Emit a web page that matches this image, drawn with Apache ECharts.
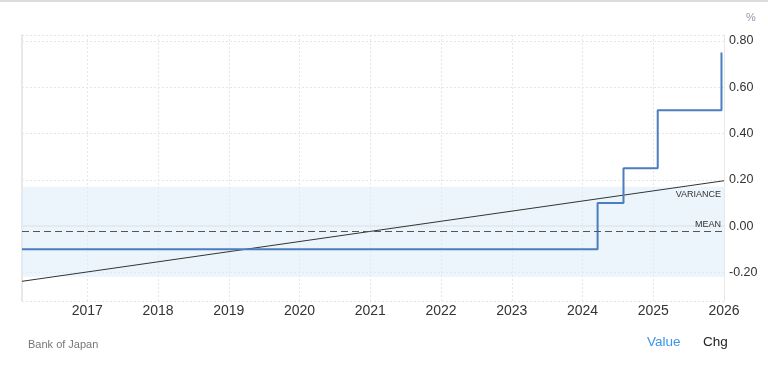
<!DOCTYPE html>
<html>
<head>
<meta charset="utf-8">
<script src="https://cdn.jsdelivr.net/npm/echarts@6/dist/echarts.min.js"></script>
<style>
html,body{margin:0;padding:0;background:#fff;}
#chart{width:768px;height:370px;}
</style>
</head>
<body>
<div id="chart"></div>
<script>
// ---- data ----
var rateDates = ['2016-01-29', '2024-03-19', '2024-07-31', '2025-01-24', '2025-12-19'];
var rateValues = [-0.10, 0.10, 0.25, 0.50, 0.75];
var axisStartDate = '2016-01-29';
var axisEndDate = '2026-01-01';
var yearTicks = [2017, 2018, 2019, 2020, 2021, 2022, 2023, 2024, 2025, 2026];
var meanValue = -0.024;
var varianceBand = [-0.218, 0.170];
var trendValues = [-0.238, 0.196];
var yTickLabels = ['-0.20', '0.00', '0.20', '0.40', '0.60', '0.80'];

function decYear(s) {
  var p = s.split('-').map(Number);
  var y = p[0];
  var start = Date.UTC(y, 0, 1), end = Date.UTC(y + 1, 0, 1);
  var d = Date.UTC(y, p[1] - 1, p[2]);
  return y + (d - start) / (end - start);
}
var xMin = decYear(axisStartDate), xMax = decYear(axisEndDate);
var rateData = rateDates.map(function (d, i) { return [decYear(d), rateValues[i]]; });
var trendData = [[xMin, trendValues[0]], [xMax, trendValues[1]]];

var FONT = 'Liberation Sans, Arial, sans-serif';
var chart = echarts.init(document.getElementById('chart'));
var yMin = -0.323, yMax = 0.825;
chart.setOption({
  animation: false,
  grid: { left: 22, right: 44, top: 35, bottom: 69 },
  xAxis: {
    type: 'value', min: xMin, max: xMax, minInterval: 1, maxInterval: 1,
    axisLine: { show: true, lineStyle: { color: '#e8e8e8', width: 2 } },
    axisTick: { show: false },
    axisLabel: {
      showMinLabel: false, margin: 3, color: '#333', fontSize: 14, fontFamily: FONT,
      formatter: function (v) { var r = Math.round(v); return yearTicks.indexOf(r) >= 0 && Math.abs(v - r) < 0.01 ? String(r) : ''; }
    },
    splitLine: { show: true, lineStyle: { color: '#e6e6e6', type: [2, 2], width: 1 } }
  },
  yAxis: [{
    type: 'value', position: 'right', min: yMin, max: yMax, splitNumber: 5,
    axisLine: { show: true, lineStyle: { color: '#e8e8e8', width: 1 } },
    axisTick: { show: false },
    axisLabel: {
      showMinLabel: false, showMaxLabel: false, margin: 5, color: '#333', fontSize: 12.5, fontFamily: FONT,
      padding: [0, 0, 4, 0],
      formatter: function (v) { var s = v.toFixed(2); if (s === '-0.00') s = '0.00'; return yTickLabels.indexOf(s) >= 0 ? s : ''; }
    },
    splitLine: { show: true, lineStyle: { color: '#e6e6e6', type: [2, 2], width: 1 } }
  }, {
    type: 'value', position: 'left', min: yMin, max: yMax,
    axisLine: { show: true, lineStyle: { color: '#e8e8e8', width: 2 } },
    axisTick: { show: false }, axisLabel: { show: false }, splitLine: { show: false }
  }],
  series: [{
    type: 'line', name: 'trend', data: trendData, symbol: 'none', silent: true,
    lineStyle: { color: '#333', width: 1 }, z: 3,
    markArea: {
      silent: true,
      itemStyle: { color: 'rgba(221,236,247,0.55)' },
      data: [[{ yAxis: varianceBand[1] }, { yAxis: varianceBand[0] }]]
    },
    markLine: {
      silent: true, symbol: 'none',
      lineStyle: { color: '#555', type: [7, 4], width: 1 },
      label: { show: true, position: 'insideEndTop', color: '#333', fontSize: 9, fontFamily: FONT, distance: [3, 2] },
      data: [
        { yAxis: meanValue, label: { formatter: 'MEAN' } },
        { yAxis: varianceBand[1], lineStyle: { color: 'rgba(0,0,0,0)', width: 0 },
          label: { formatter: 'VARIANCE', position: 'insideEndBottom', distance: [3, 3], color: '#333' } }
      ]
    }
  }, {
    type: 'line', name: 'Value', data: rateData, step: 'end', symbol: 'none',
    lineStyle: { color: '#4a7ebf', width: 2 }, z: 4
  }],
  graphic: [
    { type: 'rect', shape: { x: 0, y: 0, width: 768, height: 2 }, style: { fill: '#dcdcdc' } },
    { type: 'text', left: 746, top: 12, style: { text: '%', fill: '#8a9aab', fontSize: 11, fontFamily: FONT } },
    { type: 'text', left: 28, top: 339, style: { text: 'Bank of Japan', fill: '#777', fontSize: 11, fontFamily: FONT } },
    { type: 'text', left: 647, top: 335, style: { text: 'Value', fill: '#3a94ea', fontSize: 13.5, fontFamily: FONT } },
    { type: 'text', left: 703, top: 335, style: { text: 'Chg', fill: '#222', fontSize: 13.5, fontFamily: FONT } }
  ]
});
</script>
</body>
</html>
